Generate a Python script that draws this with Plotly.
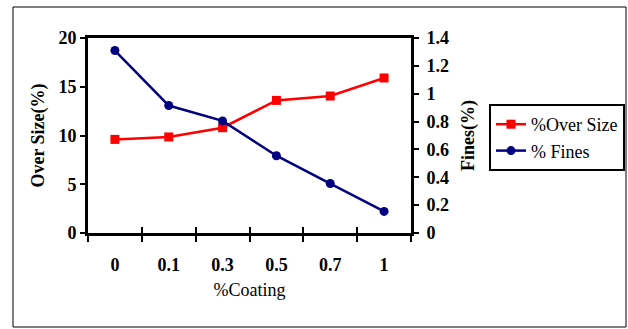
import plotly.graph_objects as go

# Coating levels (category axis) and measured percentages
coating = ["0", "0.1", "0.3", "0.5", "0.7", "1"]
over_size = [9.6, 9.85, 10.8, 13.6, 14.05, 15.9]
fines = [1.31, 0.915, 0.805, 0.555, 0.355, 0.155]

SERIF = "Liberation Serif"
W, H = 628, 329
L, R, T, B = 88, 217, 38, 96

fig = go.Figure()

fig.add_trace(go.Scatter(
    x=coating, y=over_size, name="%Over Size",
    mode="lines+markers",
    line=dict(color="#FF0000", width=2.5),
    marker=dict(symbol="square", size=9, color="#FF0000"),
    xaxis="x", yaxis="y",
))
fig.add_trace(go.Scatter(
    x=coating, y=fines, name="% Fines",
    mode="lines+markers",
    line=dict(color="#000080", width=2.5),
    marker=dict(symbol="circle", size=9, color="#000080"),
    xaxis="x2", yaxis="y2",
))

bold18 = dict(family=SERIF, size=18, color="black", weight="bold")

fig.update_layout(
    width=W, height=H,
    margin=dict(l=L, r=R, t=T, b=B, autoexpand=False),
    paper_bgcolor="white", plot_bgcolor="white",
    font=dict(family=SERIF, color="black"),
    showlegend=True,
    xaxis=dict(
        type="category", categoryorder="array", categoryarray=coating,
        range=[-0.5, 5.5], tickson="boundaries", automargin=False,
        ticks="outside", ticklen=6, tickwidth=2, tickcolor="black",
        showline=True, linewidth=3, linecolor="black", mirror=True,
        showgrid=False, zeroline=False,
        tickfont=bold18,
        ticklabelstandoff=13,
        title=dict(text="%Coating", font=dict(family=SERIF, size=18, color="black"),
                   standoff=10),
    ),
    xaxis2=dict(
        type="category", categoryorder="array", categoryarray=coating,
        range=[-0.5, 5.5], tickson="boundaries", overlaying="x", anchor="y2",
        automargin=False,
        ticks="inside", ticklen=6, tickwidth=2, tickcolor="black",
        showticklabels=False, showgrid=False, zeroline=False, showline=False,
    ),
    yaxis=dict(
        range=[0, 20], tickvals=[0, 5, 10, 15, 20], automargin=False,
        ticks="outside", ticklen=5, tickwidth=2, tickcolor="black",
        showline=True, linewidth=3, linecolor="black",
        showgrid=False, zeroline=False,
        tickfont=bold18,
        title=dict(text="Over Size(%)", font=bold18, standoff=10),
    ),
    yaxis2=dict(
        range=[0, 1.4], tickvals=[0, 0.2, 0.4, 0.6, 0.8, 1, 1.2, 1.4],
        ticktext=["0", "0.2", "0.4", "0.6", "0.8", "1", "1.2", "1.4"],
        overlaying="y", side="right", anchor="x2", automargin=False,
        ticks="outside", ticklen=5, tickwidth=2, tickcolor="black",
        showline=True, linewidth=3, linecolor="black",
        showgrid=False, zeroline=False,
        tickfont=bold18, ticklabelstandoff=4,
        title=dict(text="Fines(%)", font=bold18, standoff=14),
    ),
    legend=dict(
        x=(489 - L) / (W - L - R), y=(H - B - 104) / (H - T - B),
        xanchor="left", yanchor="top",
        bgcolor="white", bordercolor="black", borderwidth=2,
        font=dict(family=SERIF, size=18, color="black"),
        itemwidth=30,
    ),
)

# Thin frame around the whole chart
fig.add_shape(
    type="rect", xref="paper", yref="paper",
    x0=(13 - L) / (W - L - R), x1=(626 - L) / (W - L - R),
    y0=(H - B - 327) / (H - T - B), y1=(H - B - 7) / (H - T - B),
    line=dict(color="black", width=1), layer="below",
)

fig.write_html("out.html")
